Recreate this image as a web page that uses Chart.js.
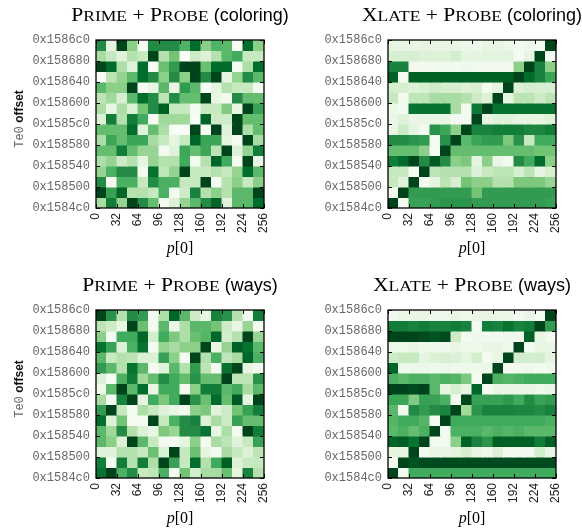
<!DOCTYPE html>
<html><head><meta charset="utf-8">
<script src="https://cdn.jsdelivr.net/npm/chart.js@4.4.1/dist/chart.umd.min.js"></script>
<style>
html,body{margin:0;padding:0;background:#fff;}
#fig{position:relative;width:582px;height:529px;overflow:hidden;background:#fff;}
#fig canvas{position:absolute;left:0;top:0;}
</style></head><body>
<div id="fig">
<canvas id="c0" width="582" height="529"></canvas>
<canvas id="c1" width="582" height="529"></canvas>
<canvas id="c2" width="582" height="529"></canvas>
<canvas id="c3" width="582" height="529"></canvas>
</div>
<script>
// ---- data ----
const pBins = [0,16,32,48,64,80,96,112,128,144,160,176,192,208,224,240]; // p[0] bin starts (width 16)
const rowOffsets = [0x1586a0,0x158680,0x158660,0x158640,0x158620,0x158600,0x1585e0,0x1585c0,
                    0x1585a0,0x158580,0x158560,0x158540,0x158520,0x158500,0x1584e0,0x1584c0]; // top -> bottom, each 0x20 wide
const xTickLabels = ['0','32','64','96','128','160','192','224','256'];
const yTickLabels = ['0x1584c0','0x158500','0x158540','0x158580','0x1585c0','0x158600','0x158640','0x158680','0x1586c0'];

// intensity 0 (white) .. 8 (darkest), rows top -> bottom
const ppColoring = [
 [6,1,8,3.5,0,6,6,6,4.7,7,3.5,4.7,4.5,0,7,3.5],
 [2.8,2,1.2,2.5,2,8,2.5,4,0,1.8,1.3,2.5,4.5,5,2,2],
 [8,7,2.7,1.2,7,0,4.2,5.5,8,8,4.2,7,7,0.2,2.7,7],
 [0,2.3,3.3,4.5,7,6,3.5,6,3.5,8,6,8,1,3.3,6,4.5],
 [4.5,3.5,3.5,8,0,0.8,4.5,0.8,5.5,4.5,0,1,2.5,2,2,0.2],
 [2.3,3,1.5,4.5,7,6,2.3,6,4.3,4.3,8,0.8,0.3,6,4.3,4.3],
 [2.7,0.8,2.7,1.3,4,6,7.3,2,2,0.2,2,2,3.7,0.8,8,5.3],
 [1.3,6.5,2.5,6.5,5,0,3,3,3,0,7.2,1.8,1.8,8,4.3,4.3],
 [4.3,4.3,4.3,7,1.2,4.3,2.7,0,0,8,0,8,1.2,8,2.7,4.3],
 [2.7,5.2,4.3,5.2,5.2,2.8,2,1,2,7.2,5.2,5.2,1,0.2,8,2.8],
 [4.3,4.3,6.5,4.3,3.2,3.2,0.2,1.2,5.2,4.3,5.2,2.3,8,1.3,3.3,6.5],
 [2.7,3.3,1.8,2.5,1,3.3,2.5,2.5,5,0.2,2.5,7.2,5,0.2,8,0.8],
 [3.3,4.8,6,6,0.2,6.8,2.2,3.3,8,2,2,2.5,2,3.3,7,4.5],
 [6,0.2,4.8,4.8,2,6,4.8,4.8,2,2,8,0.2,2.5,3.5,2,3.5],
 [8,5.3,7.2,2.5,2.5,2,4.8,0.2,1.8,6.3,2.5,3.5,2.5,4.5,4.5,8],
 [2.8,6.5,3.3,8,6,4.3,0.2,1.3,3.3,4.5,6,7.2,1.2,4.5,4.5,7]
];
const xpColoring = [
 [1,0.8,0.8,1,0.8,0.8,0.8,0.6,0.5,0.8,0.8,0.6,0.2,0.6,0.2,8],
 [1.5,1.5,1.5,1.3,1.3,1.3,1.6,1,1,1.1,1.1,1.1,0.2,1,8,0.3],
 [6.3,6.3,0.3,0.3,0.3,0.4,0.3,0.5,0.3,0.3,0.3,0.3,3.5,8,6.3,3.5],
 [7.3,0.2,7.3,7.3,7.3,7.3,7.3,7.3,7.3,7.3,7.3,7.3,8,7,6.3,5.2],
 [1.5,1.5,1.3,1.5,1.8,1.5,1.5,1.3,1.5,0.2,1,8,1.3,1.5,1.5,1.5],
 [2,0.2,2.2,2.2,2.8,2.8,2.8,2.5,1.8,1.3,8,1,2.3,2.3,1.8,2.3],
 [0.6,0.3,6.8,6.8,6.8,6.8,2.8,0.2,6.6,8,6.8,6.8,6.8,6.8,6.8,6.8],
 [0.8,1.2,0.8,0.8,0.8,0.8,0.2,0.3,8,1,1.2,1.2,1,1,1,1.2],
 [0.8,1.8,1,0.2,5.8,5.2,3.5,8,6.3,6.3,6.5,6.5,6.5,6.2,6.2,6.5],
 [6,6,5.7,5.5,0.2,5.8,8,4.5,5.2,5.5,5.5,3.8,5.8,2,5,5],
 [4.3,4.3,4.3,3.5,0.2,8,4.3,4.3,4.3,4.3,4.3,4.3,4.3,4.3,4,4],
 [6.5,7,8,6,7.5,6,3.5,3.8,1,3.5,0.8,0.2,6,5,7,3.5],
 [2,2,0.2,8,2.3,2.5,2.5,2.5,1.3,2,2.3,2.3,1.5,2.3,1,1.5],
 [2,1.2,8,0.2,1,2.3,1.5,4,3.5,3.5,2.5,2.5,3.8,3.8,3.8,3.2],
 [0.2,8,5.5,5.5,5.5,5.5,5.5,5.5,4,5.5,5.5,5.5,5.5,5.5,5.5,5.5],
 [8,0.2,5.3,5.3,5.5,5.7,5.7,5.7,5.5,5.5,5.5,5.5,5.5,5.5,5.5,5.3]
];
const ppWays = [
 [8,5.8,2.5,6,5.5,0.2,2.7,7.2,4.5,1.8,0.8,6.3,5.8,2.5,0.2,6.5],
 [2.3,1.8,0.8,8,4.2,0.2,4.5,0.6,2.7,4.5,4.5,4,1.8,0.8,3.2,0.3],
 [3.5,0.2,5,5,7.2,1.6,5,3.8,2.7,4.2,4.6,7.2,1.6,2.5,8,3.2],
 [6.8,5.3,1.3,4.8,6.8,0.2,3.3,2.8,3.5,3.5,8,0.8,3.3,7.3,6.8,4.5],
 [4.5,2,2.5,2.3,1.3,1.3,5.3,3.5,0.2,8,2.5,4.8,2.2,2.8,7.2,4.8],
 [5.5,4.5,2.5,6.8,4.5,0.2,1.2,4.5,2.5,5.5,2.3,0.2,6.8,8,1,0.3],
 [1.3,0.2,4.8,6.5,3,4.3,6,5,4.3,5.8,4.3,4.3,8,2.3,2.3,5.8],
 [0.6,4.5,8,4.5,7,0.8,5,5,0.2,3.5,6.5,6.5,4.5,5,2.8,4.5],
 [2.8,0.2,6.3,8,1,5,3.8,5,8,5.8,4.2,7,4.3,7.5,1,8],
 [5.5,8,2,0.2,2.7,2,1.3,0.8,0.3,3.5,3.8,1.2,1.8,4,5.3,6.5],
 [7,1.3,4,0.2,0.2,8,2,4.8,6,6.3,1.3,2.8,1.8,5.3,4.3,4.3],
 [4.5,3,6,2.5,1.3,0.8,3.8,3.2,6,6,6.8,0.8,2.7,0.2,8,6.5],
 [4.5,3.5,1.3,8,4.5,2,0.3,0.3,1,3.5,0.2,2.8,2.3,1.2,2,5.3],
 [1.2,1.2,2.5,2.5,2,4.2,1.3,8,2,4.2,1,0.3,2.8,2,1.3,2.3],
 [6.5,0.2,6.5,2.5,6.5,2.7,8,5.3,2,7,2.5,5,7.3,1.3,2,2],
 [6.8,8,4.8,6,2,2.2,4.8,0.2,4,1.6,2.8,2.8,4.2,1,6.3,2.5]
];
const xpWays = [
 [0.3,0.7,0.7,0.8,0.5,0.5,0.7,0.5,0.7,0.8,0.7,0.7,0.2,0.7,0.2,8],
 [6.5,6.5,6.3,6.5,6.3,6.3,6.5,6.3,0.2,6.5,6.3,6.8,6.3,6.5,8,5.5],
 [8,8,8,7.8,7.6,7.8,1.8,0.2,0.5,0.2,0.3,0.5,0.5,7.3,0.8,0.3],
 [0.6,0.6,0.8,0.5,0.5,0.5,0.8,0.6,0.5,0.8,0.8,0.5,8,0.2,0.8,0.8],
 [1.8,2,2,1,1.3,1.5,1.3,1,1.6,0.2,0.8,8,1.6,1.6,1.6,1],
 [7.2,0.6,0.6,0.6,0.5,0.6,0.5,0.5,0.5,0.6,8,0.3,0.3,0.5,0.3,0.5],
 [4.8,4.5,4.8,4.8,4.5,4.8,4.6,3.8,0.2,8,4.8,4.6,4.8,5,5,5],
 [8,8,7.8,8,4.5,1,1.5,1,7.2,0.2,0.8,0.8,0.8,0.8,0.6,0.8],
 [5.2,5.2,3.7,5.3,5.3,4.8,0.2,8,5.3,5.3,5.3,5.6,5,6,5.3,5.5],
 [4.5,0.3,6,5.5,6,6.2,8,3,5.7,6.3,6.3,6.3,6.2,6.2,6,6.3],
 [4.6,5,5,4.6,0.2,8,5,5,5,5,5,5,5,5,5,4.8],
 [4.5,4.8,4.3,4.8,8,0.3,4.8,4.8,4.8,4.5,4.8,4.6,4.8,4.5,4.5,4.5],
 [7.2,7.4,6.8,8,0.3,0.3,3.5,7.3,6.3,5.7,7.3,7.3,7.3,7.3,6.5,7.3],
 [1,1,8,0.2,0.8,0.8,1,1.5,0.8,0.5,1.3,0.3,0.2,0.3,1.6,0.8],
 [0.3,8,7.6,7.8,7.8,7.8,7.8,7.8,7.8,7.8,7.8,7.8,7.8,7.8,7.8,7.8],
 [8,0.2,5,5,5,5,5,5,5,5,5,5,5,5,5,5]
];
const attackNames = ['Prime + Probe','Xlate + Probe','Prime + Probe','Xlate + Probe'];
const variantNames = ['(coloring)','(coloring)','(ways)','(ways)'];

// ---- styling / layout ----
const GREENS = ['#f7fcf5','#e5f5e0','#c7e9c0','#a1d99b','#74c476','#41ab5d','#238b45','#006d2c','#00441b'];
function hexToRgb(h){return [parseInt(h.slice(1,3),16),parseInt(h.slice(3,5),16),parseInt(h.slice(5,7),16)];}
const GR = GREENS.map(hexToRgb);
function greens(v){
  const t = Math.max(0, Math.min(8, v));
  const i = Math.min(7, Math.floor(t)), f = t - i;
  const a = GR[i], b = GR[i+1];
  const c = a.map((x,k)=>Math.round(x + (b[k]-x)*f));
  return 'rgb(' + c.join(',') + ')';
}

const W = 582, H = 529, PLOT = 168, YAXIS_W = 96, XAXIS_H = 50;
const panels = [
  {id:'c0', values: ppColoring, left:96,  top:40,  yTitle:true},
  {id:'c1', values: xpColoring, left:388, top:40,  yTitle:false},
  {id:'c2', values: ppWays,     left:96,  top:310, yTitle:true},
  {id:'c3', values: xpWays,     left:388, top:310, yTitle:false}
];

const SERIF = '"Liberation Serif", "Times New Roman", serif';
const SANS = '"Liberation Sans", Arial, sans-serif';
const MONO = '"Liberation Mono", "Courier New", monospace';

function drawParts(ctx, parts, cx, baseY){
  let total = 0;
  parts.forEach(p => { ctx.font = p.font; p.w = ctx.measureText(p.text).width * (p.sx || 1); total += p.w; });
  let x = cx - total/2;
  parts.forEach(p => {
    ctx.save();
    ctx.font = p.font; ctx.fillStyle = p.color || '#000';
    ctx.textAlign = 'left'; ctx.textBaseline = 'alphabetic';
    ctx.translate(x, baseY); ctx.scale(p.sx || 1, 1);
    ctx.fillText(p.text, 0, 0);
    ctx.restore();
    x += p.w;
  });
}

function titleParts(name, variant){
  const cap = '18px ' + SERIF, sc = '14.6px ' + SERIF, sx = 1.2;
  const parts = [];
  name.split(' ').forEach(word => {
    if (word === '+') { parts.push({text:' + ', font:cap, sx}); return; }
    parts.push({text: word[0].toUpperCase(), font: cap, sx});
    parts.push({text: word.slice(1).toUpperCase(), font: sc, sx});
  });
  parts.push({text:' ' + variant, font:'18px ' + SANS});
  return parts;
}

const decorPlugin = {
  id: 'decor',
  afterDraw(chart, args, opts){
    const ctx = chart.ctx, ca = chart.chartArea;
    const xs = chart.scales.x, ys = chart.scales.y;
    ctx.save();
    ctx.strokeStyle = '#000'; ctx.lineWidth = 1;
    ctx.beginPath();
    xs.ticks.forEach(t => {
      const px = Math.round(xs.getPixelForValue(t.value)) + 0.5;
      ctx.moveTo(px, ca.bottom); ctx.lineTo(px, ca.bottom - 4);
      ctx.moveTo(px, ca.top); ctx.lineTo(px, ca.top + 4);
    });
    ys.ticks.forEach(t => {
      const py = Math.round(ys.getPixelForValue(t.value)) + 0.5;
      ctx.moveTo(ca.left, py); ctx.lineTo(ca.left + 4, py);
      ctx.moveTo(ca.right, py); ctx.lineTo(ca.right - 4, py);
    });
    ctx.stroke();
    ctx.lineWidth = 1.3;
    ctx.strokeRect(ca.left, ca.top, ca.right - ca.left, ca.bottom - ca.top);
    const cx = (ca.left + ca.right) / 2;
    // panel title
    drawParts(ctx, titleParts(opts.name, opts.variant), cx, ca.top - 19);
    // x axis title p[0]
    drawParts(ctx, [
      {text:'p', font:'italic 16px ' + SERIF},
      {text:'[0]', font:'16px ' + SERIF}
    ], cx, ca.bottom + 45);
    // y axis title
    if (opts.yTitle){
      ctx.save();
      ctx.translate(22.5, ca.top + 79);
      ctx.rotate(-Math.PI/2);
      drawParts(ctx, [
        {text:'Te0', font:'12px ' + MONO, color:'#666'},
        {text:' offset', font:'bold 12px ' + SANS, color:'#111'}
      ], 0, 0);
      ctx.restore();
    }
    ctx.restore();
  }
};

panels.forEach((p, pi) => {
  const datasets = p.values.map((row, r) => ({
    data: pBins.map(b => ({x: b + 8, y: [rowOffsets[r], rowOffsets[r] + 0x20]})),
    backgroundColor: row.map(greens),
    borderWidth: 0,
    grouped: false,
    barPercentage: 1,
    categoryPercentage: 1,
    inflateAmount: 0.5
  }));
  new Chart(document.getElementById(p.id), {
    type: 'bar',
    data: {datasets},
    options: {
      responsive: false,
      animation: false,
      events: [],
      devicePixelRatio: 1,
      layout: {padding: {
        left: p.left - YAXIS_W,
        right: W - (p.left + PLOT),
        top: p.top,
        bottom: H - (p.top + PLOT) - XAXIS_H
      }},
      plugins: {
        legend: {display: false},
        tooltip: {enabled: false},
        title: {display: false},
        decor: {name: attackNames[pi], variant: variantNames[pi], yTitle: p.yTitle}
      },
      scales: {
        x: {
          type: 'linear', min: 0, max: 256, offset: false,
          grid: {display: false, drawTicks: false},
          border: {display: false},
          ticks: {stepSize: 32, autoSkip: false, minRotation: 90, maxRotation: 90, padding: 5,
                  color: '#222', font: {family: SANS, size: 12},
                  callback: (v, i) => xTickLabels[i] ?? ''},
          afterFit: s => { s.height = XAXIS_H; }
        },
        y: {
          type: 'linear', min: 0x1584c0, max: 0x1586c0,
          grid: {display: false, drawTicks: false},
          border: {display: false},
          ticks: {stepSize: 0x40, autoSkip: false, padding: 6,
                  color: '#666', font: {family: MONO, size: 12},
                  callback: (v, i) => yTickLabels[i] ?? ''},
          afterFit: s => { s.width = YAXIS_W; }
        }
      }
    },
    plugins: [decorPlugin]
  });
});
</script>
</body></html>
